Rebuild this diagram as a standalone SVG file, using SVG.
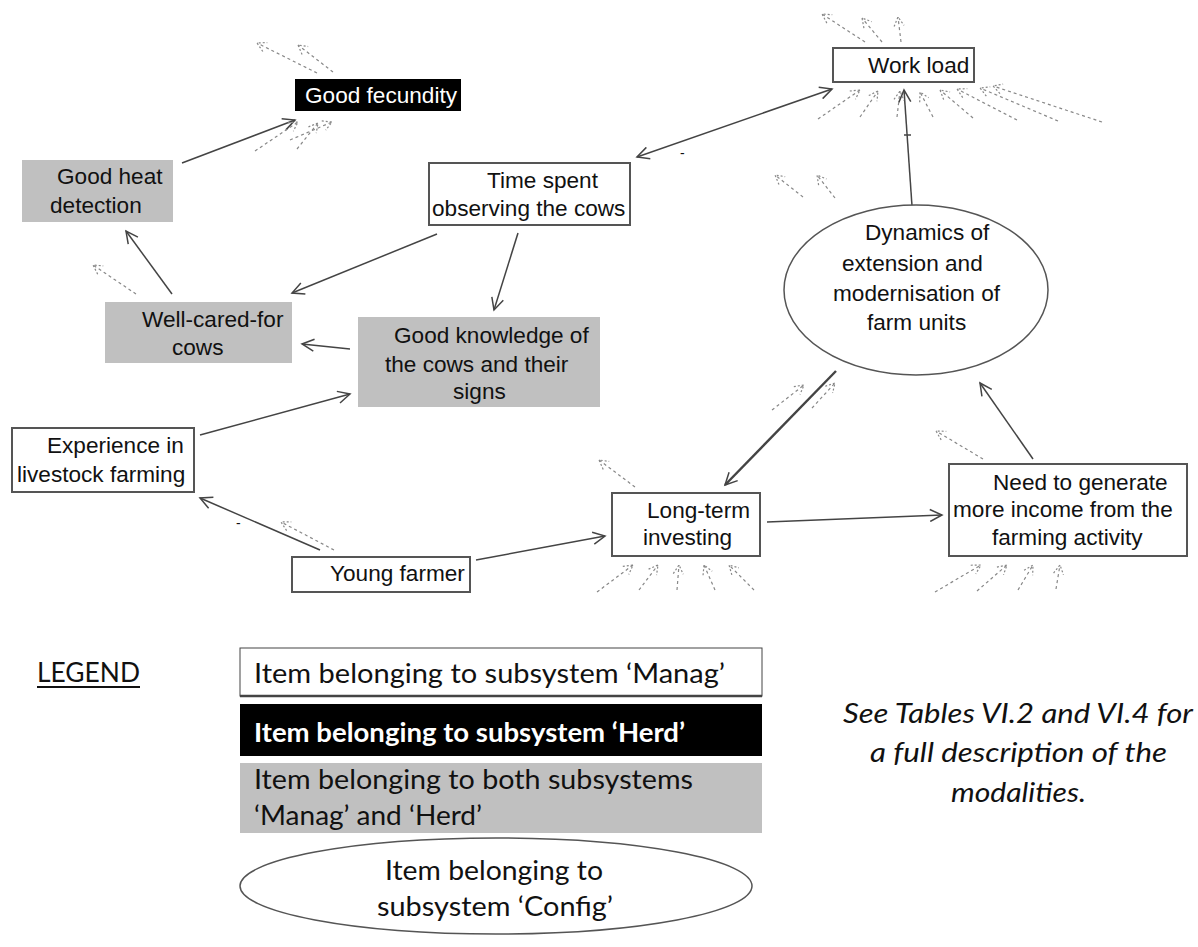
<svg xmlns="http://www.w3.org/2000/svg" width="1198" height="947" viewBox="0 0 1198 947">
<style>
.t{font-family:"Liberation Sans",Arial,sans-serif;font-size:22.6px;fill:#111}
.tw{font-family:"Liberation Sans",Arial,sans-serif;font-size:22.6px;fill:#fff}
.box{fill:#fff;stroke:#555;stroke-width:2}
.gbox{fill:#c0c0c0}
.bbox{fill:#000}
.c{stroke:#444;stroke-width:1.5;fill:none;marker-end:url(#ah)}
.d{stroke:#888;stroke-width:1.2;fill:none;stroke-dasharray:3 3;marker-end:url(#dh)}
.lg{font-family:Lato,"Open Sans",sans-serif;font-size:26px;fill:#111}
.lgb{font-family:Lato,"Open Sans",sans-serif;font-size:26px;font-weight:bold;fill:#fff}
.it{font-family:Lato,"Open Sans",sans-serif;font-size:27px;font-style:italic;fill:#111}
</style>
<defs>
<marker id="ah" markerUnits="userSpaceOnUse" markerWidth="16" markerHeight="14" refX="13" refY="7" orient="auto-start-reverse">
<path d="M1,1 L13,7 L1,13" fill="none" stroke="#444" stroke-width="1.5"/>
</marker>
<marker id="dh" markerUnits="userSpaceOnUse" markerWidth="12" markerHeight="12" refX="10" refY="6" orient="auto">
<path d="M1,1 L10,6 L1,11" fill="none" stroke="#888" stroke-width="1.2" stroke-dasharray="2 2"/>
</marker>
</defs>
<rect width="1198" height="947" fill="#fff"/>

<g id="connectors">
<line class="c" x1="182" y1="163" x2="295" y2="120"/>
<line class="c" x1="172" y1="294" x2="126" y2="231"/>
<line class="c" x1="437" y1="234" x2="292" y2="293"/>
<line class="c" x1="518" y1="233" x2="494" y2="310"/>
<line class="c" x1="350" y1="349" x2="302" y2="344"/>
<line class="c" x1="200" y1="435" x2="350" y2="394"/>
<line class="c" x1="320" y1="550" x2="200" y2="498"/>
<line class="c" x1="476" y1="560" x2="605" y2="536"/>
<line class="c" x1="767" y1="522" x2="942" y2="515"/>
<line class="c" x1="1033" y1="459" x2="980" y2="383"/>
<line class="c" x1="836" y1="371" x2="725" y2="485" style="stroke-width:2.4"/>
<line class="c" x1="912" y1="206" x2="904" y2="90"/>
<line x1="904" y1="135" x2="911" y2="135" stroke="#444" stroke-width="1.5"/>
<line class="c" x1="637" y1="157" x2="832" y2="89" style="marker-start:url(#ah)"/>
<text class="t" x="680" y="158" style="font-size:14px">-</text>
<text class="t" x="236" y="528" style="font-size:14px">-</text>
<line class="d" x1="317" y1="73" x2="257" y2="43"/>
<line class="d" x1="333" y1="72" x2="298" y2="45"/>
<line class="d" x1="255" y1="151" x2="298" y2="122"/>
<line class="d" x1="297" y1="149" x2="318" y2="123"/>
<line class="d" x1="290" y1="140" x2="332" y2="122"/>
<line class="d" x1="136" y1="294" x2="93" y2="265"/>
<line class="d" x1="334" y1="550" x2="281" y2="522"/>
<line class="d" x1="865" y1="42" x2="822" y2="14"/>
<line class="d" x1="882" y1="42" x2="862" y2="18"/>
<line class="d" x1="901" y1="42" x2="898" y2="17"/>
<line class="d" x1="818" y1="119" x2="860" y2="90"/>
<line class="d" x1="860" y1="117" x2="878" y2="91"/>
<line class="d" x1="897" y1="117" x2="900" y2="91"/>
<line class="d" x1="933" y1="117" x2="920" y2="92"/>
<line class="d" x1="973" y1="118" x2="940" y2="90"/>
<line class="d" x1="1017" y1="120" x2="957" y2="89"/>
<line class="d" x1="1058" y1="121" x2="980" y2="88"/>
<line class="d" x1="1102" y1="122" x2="993" y2="86"/>
<line class="d" x1="803" y1="197" x2="775" y2="175"/>
<line class="d" x1="835" y1="198" x2="817" y2="175"/>
<line class="d" x1="772" y1="410" x2="804" y2="385"/>
<line class="d" x1="812" y1="408" x2="835" y2="383"/>
<line class="d" x1="635" y1="487" x2="599" y2="460"/>
<line class="d" x1="597" y1="592" x2="633" y2="565"/>
<line class="d" x1="639" y1="590" x2="658" y2="565"/>
<line class="d" x1="677" y1="590" x2="679" y2="565"/>
<line class="d" x1="715" y1="590" x2="704" y2="565"/>
<line class="d" x1="754" y1="590" x2="729" y2="565"/>
<line class="d" x1="983" y1="459" x2="936" y2="431"/>
<line class="d" x1="935" y1="592" x2="981" y2="565"/>
<line class="d" x1="977" y1="591" x2="1007" y2="565"/>
<line class="d" x1="1018" y1="590" x2="1033" y2="565"/>
<line class="d" x1="1056" y1="589" x2="1060" y2="565"/>
</g>

<g id="good-fecundity">
<rect class="bbox" x="295" y="79" width="166" height="32"/>
<text class="tw" x="305" y="103">Good fecundity</text>
</g>
<g id="work-load">
<rect class="box" x="833" y="48" width="141" height="34"/>
<text class="t" x="868" y="73">Work load</text>
</g>
<g id="good-heat-detection">
<rect class="gbox" x="22" y="160" width="151" height="62"/>
<text class="t" x="57" y="184">Good heat</text>
<text class="t" x="50" y="213">detection</text>
</g>
<g id="time-spent">
<rect class="box" x="429" y="163" width="201" height="62"/>
<text class="t" x="487" y="188">Time spent</text>
<text class="t" x="432" y="216">observing the cows</text>
</g>
<g id="well-cared-for-cows">
<rect class="gbox" x="105" y="302" width="187" height="61"/>
<text class="t" x="142" y="327">Well-cared-for</text>
<text class="t" x="172" y="355">cows</text>
</g>
<g id="good-knowledge">
<rect class="gbox" x="358" y="317" width="242" height="90"/>
<text class="t" x="394" y="343">Good knowledge of</text>
<text class="t" x="385" y="372">the cows and their</text>
<text class="t" x="453" y="399">signs</text>
</g>
<g id="dynamics">
<ellipse cx="916" cy="290" rx="132" ry="85" fill="#fff" stroke="#555" stroke-width="1.5"/>
<text class="t" x="865" y="240">Dynamics of</text>
<text class="t" x="842" y="271">extension and</text>
<text class="t" x="833" y="301">modernisation of</text>
<text class="t" x="867" y="330">farm units</text>
</g>
<g id="experience">
<rect class="box" x="12" y="428" width="182" height="64"/>
<text class="t" x="47" y="453">Experience in</text>
<text class="t" x="17" y="482">livestock farming</text>
</g>
<g id="young-farmer">
<rect class="box" x="292" y="557" width="178" height="35"/>
<text class="t" x="330" y="581">Young farmer</text>
</g>
<g id="long-term-investing">
<rect class="box" x="612" y="493" width="148" height="63"/>
<text class="t" x="647" y="518">Long-term</text>
<text class="t" x="643" y="545">investing</text>
</g>
<g id="need-income">
<rect class="box" x="949" y="464" width="238" height="92"/>
<text class="t" x="993" y="490">Need to generate</text>
<text class="t" x="953" y="517">more income from the</text>
<text class="t" x="992" y="545">farming activity</text>
</g>

<g id="legend" transform="translate(0,-10)">
<text class="lg" x="37" y="692" textLength="103" lengthAdjust="spacingAndGlyphs">LEGEND</text>
<line x1="37" y1="697" x2="140" y2="697" stroke="#111" stroke-width="2"/>
<g id="legend-manag">
<rect x="240" y="658" width="522" height="48" fill="#fff" stroke="#444" stroke-width="1"/>
<line x1="240" y1="706" x2="762" y2="706" stroke="#444" stroke-width="2.5"/>
<text class="lg" x="254" y="693" textLength="471" lengthAdjust="spacingAndGlyphs">Item belonging to subsystem ‘Manag’</text>
</g>
<g id="legend-herd">
<rect x="240" y="714" width="522" height="52" fill="#000"/>
<text class="lgb" x="254" y="752" textLength="431" lengthAdjust="spacingAndGlyphs">Item belonging to subsystem ‘Herd’</text>
</g>
<g id="legend-both">
<rect x="240" y="773" width="522" height="70" fill="#c0c0c0"/>
<text class="lg" x="254" y="799" textLength="439" lengthAdjust="spacingAndGlyphs">Item belonging to both subsystems</text>
<text class="lg" x="254" y="835" textLength="228" lengthAdjust="spacingAndGlyphs">‘Manag’ and ‘Herd’</text>
</g>
<g id="legend-config">
<ellipse cx="496" cy="896" rx="256" ry="48" fill="#fff" stroke="#555" stroke-width="1.5"/>
<text class="lg" x="385" y="890" textLength="218" lengthAdjust="spacingAndGlyphs">Item belonging to</text>
<text class="lg" x="377" y="926" textLength="236" lengthAdjust="spacingAndGlyphs">subsystem ‘Config’</text>
</g>
</g>

<g id="note" transform="translate(0,-10)">
<text class="it" x="843" y="733" textLength="350" lengthAdjust="spacingAndGlyphs">See Tables VI.2 and VI.4 for</text>
<text class="it" x="870" y="772" textLength="297" lengthAdjust="spacingAndGlyphs">a full description of the</text>
<text class="it" x="951" y="812" textLength="135" lengthAdjust="spacingAndGlyphs">modalities.</text>
</g>
</svg>
